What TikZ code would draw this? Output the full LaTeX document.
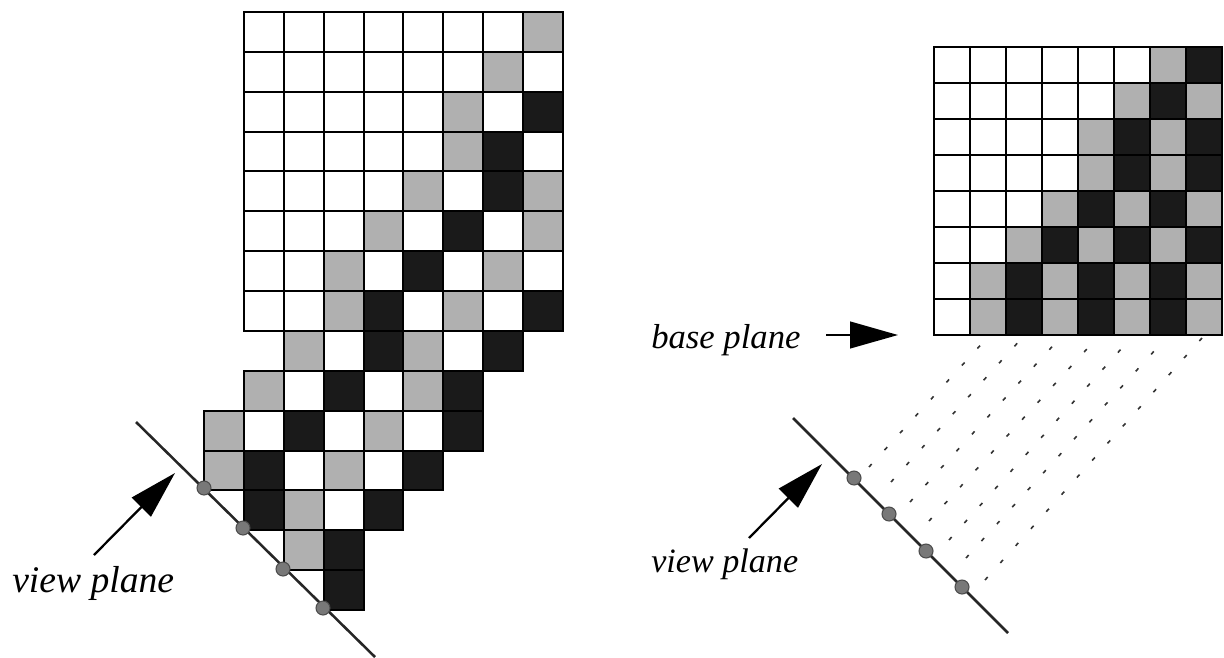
\documentclass[tikz,border=0pt]{standalone}
\usepackage{fontspec}
\setmainfont{Liberation Serif}
\usetikzlibrary{arrows.meta}
\definecolor{cw}{RGB}{255,255,255}
\definecolor{cg}{RGB}{176,176,176}
\definecolor{ck}{RGB}{26,26,26}
\definecolor{dotgray}{RGB}{120,120,120}
\tikzset{
    cell/.style={draw=black, line width=1.5pt},
    plane/.style={draw=black!85, line width=1.9pt},
    viewdot/.style={circle, draw=black!70, fill=dotgray, line width=0.8pt, minimum size=10.5pt, inner sep=0pt},
    pointer/.style={draw=black, line width=1.7pt, -{Triangle[length=36pt,width=20pt]}},
    ray/.style={draw=black!80, line width=1.2pt, dash pattern=on 3pt off 14.2pt},
    planelabel/.style={anchor=base west, inner sep=0pt, font=\itshape\fontsize{28.2}{30}\selectfont}
}
\begin{document}
\begin{tikzpicture}[x=0.75pt, y=-0.75pt]
    \useasboundingbox (0,0) rectangle (1224,657);
    % left stack of voxels
    \begin{scope}[shift={(244,12)}, x=29.9pt, y=-29.9pt]
        \foreach \r/\first/\row in {
            0/0/{cw,cw,cw,cw,cw,cw,cw,cg},
            1/0/{cw,cw,cw,cw,cw,cw,cg,cw},
            2/0/{cw,cw,cw,cw,cw,cg,cw,ck},
            3/0/{cw,cw,cw,cw,cw,cg,ck,cw},
            4/0/{cw,cw,cw,cw,cg,cw,ck,cg},
            5/0/{cw,cw,cw,cg,cw,ck,cw,cg},
            6/0/{cw,cw,cg,cw,ck,cw,cg,cw},
            7/0/{cw,cw,cg,ck,cw,cg,cw,ck},
            8/1/{cg,cw,ck,cg,cw,ck},
            9/0/{cg,cw,ck,cw,cg,ck},
            10/-1/{cg,cw,ck,cw,cg,cw,ck},
            11/-1/{cg,ck,cw,cg,cw,ck},
            12/0/{ck,cg,cw,ck},
            13/1/{cg,ck},
            14/2/{ck}} {
            \foreach \t [count=\c from \first] in \row {
                \draw[cell, fill=\t] (\c, \r) rectangle (\c+1, \r+1);
            }
        }
    \end{scope}
    % right stack of voxels
    \begin{scope}[shift={(934,47)}, x=27pt, y=-27pt]
        \foreach \r/\row in {
            0/{cw,cw,cw,cw,cw,cw,cg,ck},
            1/{cw,cw,cw,cw,cw,cg,ck,cg},
            2/{cw,cw,cw,cw,cg,ck,cg,ck},
            3/{cw,cw,cw,cw,cg,ck,cg,ck},
            4/{cw,cw,cw,cg,ck,cg,ck,cg},
            5/{cw,cw,cg,ck,cg,ck,cg,ck},
            6/{cw,cg,ck,cg,ck,cg,ck,cg},
            7/{cw,cg,ck,cg,ck,cg,ck,cg}} {
            \foreach \t [count=\c from 0] in \row {
                \draw[cell, fill=\t] (\c, \r) rectangle (\c+1, \r+1);
            }
        }
    \end{scope}
    % rays from the view plane up to the base plane
    \foreach \i/\xa/\ya/\xb in {1/869/467/987, 2/891/482/1022, 3/910/502/1060, 4/929/521/1097, 5/949/540/1131, 6/966/558/1166, 7/985/580/1202} {
        \coordinate (rayfoot\i) at (\xa, \ya);
        \coordinate (raytop\i) at (\xb, 338);
        \draw[ray] (rayfoot\i) -- (raytop\i);
    }
    % view planes
    \coordinate (lplanea) at (136, 422);
    \coordinate (lplaneb) at (375, 657);
    \coordinate (rplanea) at (793, 418);
    \coordinate (rplaneb) at (1008, 633);
    \draw[plane] (lplanea) -- (lplaneb);
    \draw[plane] (rplanea) -- (rplaneb);
    \foreach \i/\x/\y in {1/204/488, 2/243/528, 3/283/569, 4/323/608} {
        \node[viewdot] (ldot\i) at (\x, \y) {};
    }
    \foreach \i/\x/\y in {1/854/478, 2/889/514, 3/926/551, 4/962/587} {
        \node[viewdot] (rdot\i) at (\x, \y) {};
    }
    % labels and pointers
    \node[planelabel] (lview) at (12, 592) {view plane};
    \node[planelabel, font=\itshape\fontsize{25.6}{28}\selectfont] (rview) at (651, 572) {view plane};
    \node[planelabel, font=\itshape\fontsize{26}{28}\selectfont] (base) at (651, 348) {base plane};
    \coordinate (lviewfoot) at (94, 555);
    \coordinate (lviewtip) at (175, 473);
    \coordinate (rviewfoot) at (749, 538);
    \coordinate (rviewtip) at (822, 464);
    \coordinate (basefoot) at (826, 335);
    \coordinate (basetip) at (898, 335);
    \draw[pointer] (lviewfoot) -- (lviewtip);
    \draw[pointer] (rviewfoot) -- (rviewtip);
    \draw[pointer] (basefoot) -- (basetip);
\end{tikzpicture}
\end{document}
